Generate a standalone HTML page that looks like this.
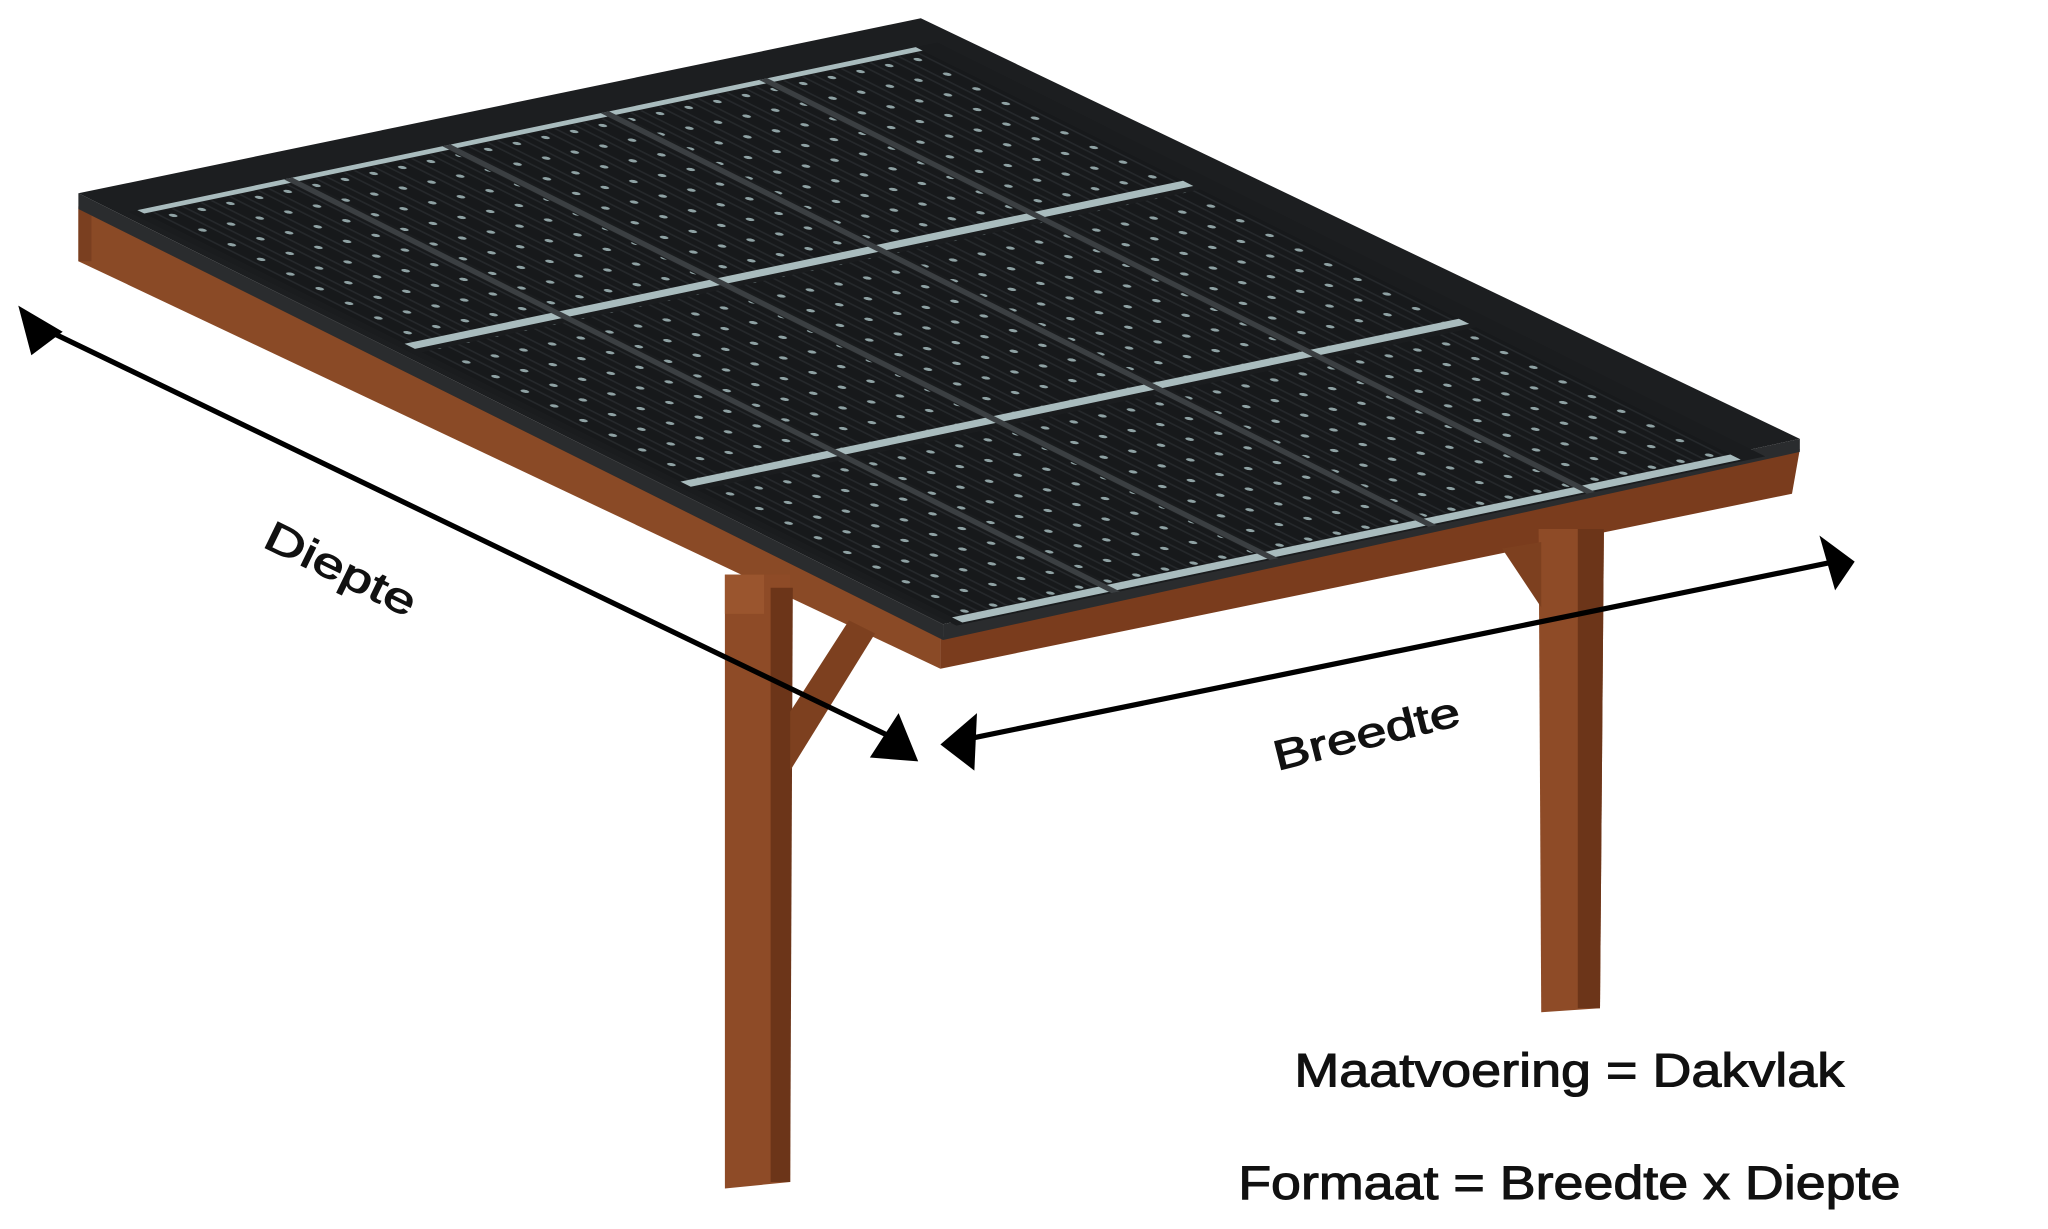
<!DOCTYPE html>
<html><head><meta charset="utf-8"><style>
html,body{margin:0;padding:0;background:#fff;}
svg{display:block}
</style></head><body>
<svg width="2048" height="1229" viewBox="0 0 1568 941" preserveAspectRatio="none" xmlns="http://www.w3.org/2000/svg">
<defs>
<pattern id="dots" width="34" height="34" patternUnits="userSpaceOnUse">
<rect width="34" height="34" fill="#17191b"/>
<line x1="0" y1="6" x2="34" y2="6" stroke="#25282b" stroke-width="3"/>
<line x1="0" y1="28" x2="34" y2="28" stroke="#25282b" stroke-width="3"/>
<circle cx="17" cy="17" r="3.6" fill="#8fa2a4"/>
</pattern>
</defs>
<!-- roof fascia -->
<polygon points="60,158 720,488 720,512 60,200" fill="#8a4a26"/>
<polygon points="60,160 60,200 70,200 70,165" fill="#7a3f20"/>
<polygon points="720,488 1378,344 1372,378 720,512" fill="#7a3c1d"/>
<!-- legs -->
<polygon points="555,440 605,440 605,905 555,910" fill="#8e4b27"/>
<polygon points="590,450 607,450 605,905 590,905" fill="#6c3519"/>
<polygon points="555,440 585,440 585,470 555,470" fill="#9a552e"/>
<polygon points="605,545 650,475 670,485 605,590" fill="#7d401f"/>
<polygon points="1178,405 1228,405 1225,772 1180,775" fill="#8e4b27"/>
<polygon points="1208,405 1228,405 1225,772 1208,772" fill="#6c3519"/>
<polygon points="1150,420 1180,415 1180,465" fill="#7d401f"/>
<!-- roof surface -->
<polygon points="60,148 705,14 1378,336 722,478" fill="#1c1e20"/>
<polygon points="60,160 722,490 722,478 60,148" fill="#2a2c2e"/>
<polygon points="722,478 1378,336 1378,346 722,490" fill="#2a2c2e"/>
<g transform="matrix(0.660,0.330,0.645,-0.135,66,155)">
<rect x="30" y="20" width="960" height="960" fill="#1a1c1e"/>
<g fill="url(#dots)">
<rect x="40" y="30" width="300" height="172"/><rect x="360" y="30" width="300" height="172"/><rect x="680" y="30" width="300" height="172"/>
<rect x="40" y="218" width="300" height="172"/><rect x="360" y="218" width="300" height="172"/><rect x="680" y="218" width="300" height="172"/>
<rect x="40" y="406" width="300" height="172"/><rect x="360" y="406" width="300" height="172"/><rect x="680" y="406" width="300" height="172"/>
<rect x="40" y="594" width="300" height="172"/><rect x="360" y="594" width="300" height="172"/><rect x="680" y="594" width="300" height="172"/>
<rect x="40" y="782" width="300" height="172"/><rect x="360" y="782" width="300" height="172"/><rect x="680" y="782" width="300" height="172"/>
</g>
<g fill="#a9bcbe">
<rect x="340" y="30" width="12" height="924"/>
<rect x="660" y="30" width="12" height="924"/>
<rect x="975" y="30" width="12" height="924"/>
<rect x="30" y="30" width="8" height="924"/>
</g>
<g fill="#3b3f42">
<rect x="30" y="204" width="960" height="10"/><rect x="30" y="392" width="960" height="10"/><rect x="30" y="580" width="960" height="10"/><rect x="30" y="768" width="960" height="10"/>
</g>
</g>
<!-- arrows -->
<g stroke="#000" stroke-width="4" fill="none">
<line x1="30" y1="250" x2="690" y2="568"/>
<line x1="735" y1="567" x2="1405" y2="430"/>
</g>
<g fill="#000">
<polygon points="14,234 48,254 24,272"/>
<polygon points="703,583 666,580 688,546"/>
<polygon points="720,570 748,546 746,590"/>
<polygon points="1420,430 1393,410 1405,452"/>
</g>
<g font-family="Liberation Sans, sans-serif" fill="#111" stroke="#111" stroke-width="0.8">
<text transform="translate(200,418) rotate(26)" font-size="32" textLength="125" lengthAdjust="spacingAndGlyphs">Diepte</text>
<text transform="translate(978,590) rotate(-14)" font-size="32" textLength="146" lengthAdjust="spacingAndGlyphs">Breedte</text>
<text x="991" y="832" font-size="36" textLength="421" lengthAdjust="spacingAndGlyphs">Maatvoering = Dakvlak</text>
<text x="948" y="918" font-size="36" textLength="507" lengthAdjust="spacingAndGlyphs">Formaat = Breedte x Diepte</text>
</g>
</svg>
</body></html>
